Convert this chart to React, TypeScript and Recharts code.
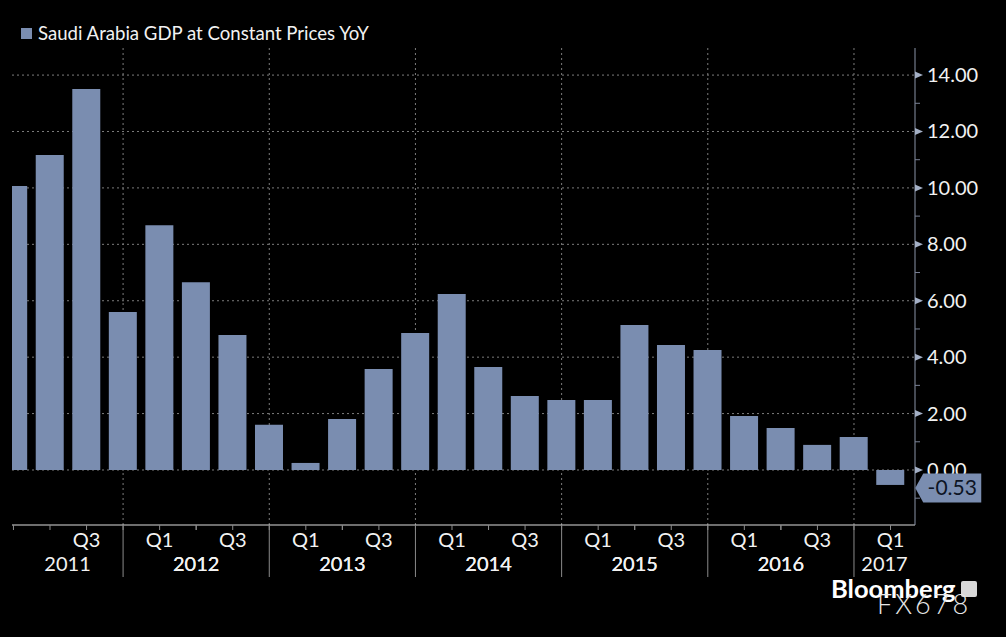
import { BarChart, Bar, XAxis, YAxis, CartesianGrid, LabelList } from 'recharts';

const periods = [
    '2011 Q1', '2011 Q2', '2011 Q3', '2011 Q4',
    '2012 Q1', '2012 Q2', '2012 Q3', '2012 Q4',
    '2013 Q1', '2013 Q2', '2013 Q3', '2013 Q4',
    '2014 Q1', '2014 Q2', '2014 Q3', '2014 Q4',
    '2015 Q1', '2015 Q2', '2015 Q3', '2015 Q4',
    '2016 Q1', '2016 Q2', '2016 Q3', '2016 Q4',
    '2017 Q1',
];

const gdpYoY = [
    10.07, 11.17, 13.51, 5.6,
    8.68, 6.66, 4.79, 1.6,
    0.25, 1.81, 3.58, 4.86,
    6.24, 3.65, 2.62, 2.48,
    2.48, 5.14, 4.43, 4.25,
    1.91, 1.49, 0.89, 1.17,
    -0.53,
];

const yTicks = [-1, 0, 1, 2, 3, 4, 5, 6, 7, 8, 9, 10, 11, 12, 13, 14];
const yGrid = [0, 2, 4, 6, 8, 10, 12, 14];

const X_MIN = -0.04;
const X_MAX = 24.67;

const data = periods.map((p, i) => ({ idx: i, period: p, value: gdpYoY[i] }));

// year boundaries sit on the Q4 bars
const yearLines = data.filter((d) => d.period.endsWith('Q4')).map((d) => d.idx);
// year labels: middle of the visible part of each year
const yearLabelPos: { pos: number; year: string }[] = [];
{
    const bounds = [X_MIN, ...yearLines, X_MAX];
    for (let k = 0; k < bounds.length - 1; k++) {
        yearLabelPos.push({ pos: (bounds[k] + bounds[k + 1]) / 2, year: String(2011 + k) });
    }
}
const xTicks = [...data.map((d) => d.idx), ...yearLabelPos.map((y) => y.pos)];

const BAR = '#7a8db0';
const FONT = 'Lato, "Open Sans", sans-serif';

function XTick(props: any) {
    const { x, y, payload } = props;
    const v = payload.value;
    const yl = yearLabelPos.find((p) => Math.abs(p.pos - v) < 1e-6);
    const d = Number.isInteger(v) ? data[v] : null;
    return (
        <g>
            {d && <line x1={x} x2={x} y1={y} y2={y + 5} stroke="#8a8a8a" />}
            {d && d.period.endsWith('Q4') && <line x1={x} x2={x} y1={y} y2={y + 52} stroke="#8a8a8a" />}
            {d && v > 0 && (d.period.endsWith('Q1') || d.period.endsWith('Q3')) && (
                <text x={x} y={y + 22} textAnchor="middle" fill="#f2f2f2" fontSize={20} fontFamily={FONT}>
                    {d.period.slice(5)}
                </text>
            )}
            {yl && (
                <text x={x} y={y + 46} textAnchor="middle" fill="#f2f2f2" fontSize={20} fontFamily={FONT}>
                    {yl.year}
                </text>
            )}
        </g>
    );
}

function YTick(props: any) {
    const { x, y, payload } = props;
    const v = payload.value;
    if (v % 2 !== 0) {
        return <line x1={x} x2={x + 5} y1={y} y2={y} stroke="#7a8296" />;
    }
    return (
        <g>
            <polygon points={`${x},${y - 3.5} ${x + 8},${y} ${x},${y + 3.5}`} fill="#a4b0c6" />
            <text x={x + 12} y={y} dy={7} fill="#f2f2f2" fontSize={20} fontFamily={FONT}>
                {v.toFixed(2)}
            </text>
        </g>
    );
}

function LastValue(props: any) {
    const { x, y, width, height, value, index } = props;
    if (index !== data.length - 1) return null;
    const top = Math.min(y, y + height);
    const bottom = Math.max(y, y + height);
    const vy = value < 0 ? bottom : top;
    const tip = x + width + 11;
    const cy = vy + 3;
    return (
        <g>
            <polygon
                points={`${tip},${cy} ${tip + 8},${cy - 14.5} ${tip + 66},${cy - 14.5} ${tip + 66},${cy + 14.5} ${tip + 8},${cy + 14.5}`}
                fill={BAR}
            />
            <text x={tip + 37} y={cy} dy={7} textAnchor="middle" fill="#0d1424" fontSize={21} fontFamily={FONT}>
                {value.toFixed(2)}
            </text>
        </g>
    );
}

export default function App() {
    return (
        <div style={{ position: 'fixed', left: 0, top: 0, width: 1006, height: 637, background: '#000', fontFamily: FONT }}>
            <BarChart width={1006} height={637} data={data} margin={{ top: 48, right: 0, bottom: 0, left: 12 }}>
                <CartesianGrid
                    stroke="#7c7c7c"
                    strokeDasharray="2 3"
                    horizontalValues={yGrid}
                    verticalValues={yearLines}
                />
                <XAxis
                    dataKey="idx"
                    type="number"
                    domain={[X_MIN, X_MAX]}
                    allowDataOverflow
                    ticks={xTicks}
                    interval={0}
                    height={112}
                    tickSize={0}
                    tickMargin={0}
                    tickLine={false}
                    axisLine={{ stroke: '#dcdcdc' }}
                    tick={<XTick />}
                />
                <YAxis
                    orientation="right"
                    type="number"
                    domain={[-1.95, 14.96]}
                    allowDataOverflow
                    ticks={yTicks}
                    interval={0}
                    width={91}
                    tickSize={0}
                    tickMargin={0}
                    tickLine={false}
                    axisLine={{ stroke: '#8a94a8' }}
                    tick={<YTick />}
                />
                <Bar dataKey="value" fill={BAR} barSize={28} isAnimationActive={false}>
                    <LabelList dataKey="value" content={<LastValue />} />
                </Bar>
            </BarChart>

            <div style={{ position: 'absolute', left: 21, top: 22, display: 'flex', alignItems: 'center', color: '#f2f2f2', fontSize: 18.6 }}>
                <span style={{ display: 'inline-block', width: 11, height: 11, background: BAR, marginRight: 6 }} />
                Saudi Arabia GDP at Constant Prices YoY
            </div>

            <div style={{ position: 'absolute', left: 831, top: 576, display: 'flex', alignItems: 'center', color: '#fff', fontSize: 25.5, fontWeight: 700, lineHeight: 1 }}>
                Bloomberg
                <span style={{ display: 'inline-block', width: 16, height: 16, background: '#d8d8d8', marginLeft: 5, borderRadius: 2 }} />
            </div>
            <div style={{ position: 'absolute', left: 877, top: 590, color: '#e6e6e6', fontSize: 27, fontWeight: 300, letterSpacing: 3, lineHeight: 1 }}>
                FX678
            </div>
        </div>
    );
}
